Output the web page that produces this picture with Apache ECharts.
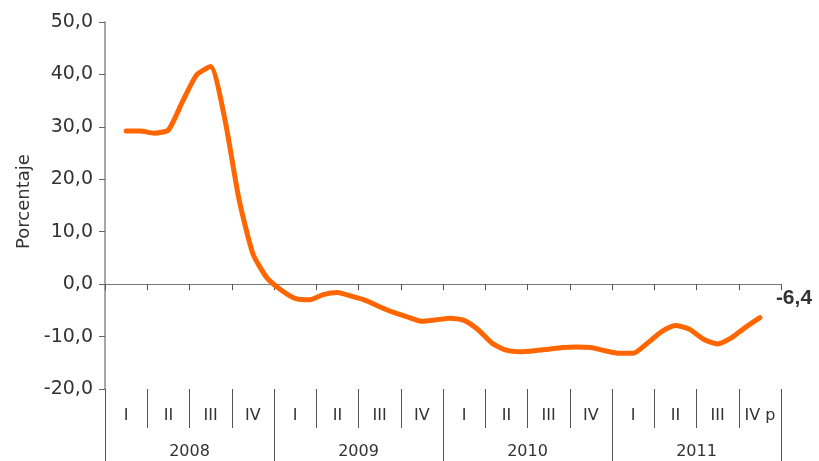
<!DOCTYPE html>
<html>
<head>
<meta charset="utf-8">
<script src="https://cdn.jsdelivr.net/npm/echarts@6/dist/echarts.min.js"></script>
<style>
  html, body { margin: 0; padding: 0; background: #fff; }
  #chart { width: 819px; height: 461px; }
</style>
</head>
<body>
<div id="chart"></div>
<script>
var years = ['2008', '2009', '2010', '2011'];
var quarters = ['I', 'II', 'III', 'IV', 'I', 'II', 'III', 'IV', 'I', 'II', 'III', 'IV', 'I', 'II', 'III', 'IV p'];
var monthNames = ['ene', 'feb', 'mar', 'abr', 'may', 'jun', 'jul', 'ago', 'sep', 'oct', 'nov', 'dic'];
// variacion mensual (%), ene 2008 .. nov 2011
var variacion = [
  null, 29.2, 29.2, 28.8, 29.4, 34.8, 39.9, 41.5, 31.6, 16.4, 5.8, 1.2,
  -1.1, -2.7, -3.0, -2.0, -1.6, -2.3, -3.1, -4.3, -5.4, -6.3, -7.1, -6.8,
  -6.5, -6.9, -8.7, -11.3, -12.6, -12.9, -12.7, -12.4, -12.1, -12.0, -12.1, -12.7,
  -13.2, -13.2, -11.3, -9.1, -7.9, -8.6, -10.5, -11.4, -10.2, -8.2, -6.4
];
var yTicks = [-20, -10, 0, 10, 20, 30, 40, 50];

var months = [];
years.forEach(function (y) {
  monthNames.forEach(function (m) { months.push(m + ' ' + y); });
});

function coma(v) {
  return v.toFixed(1).replace('.', ',');
}

var textColor = '#333';
var chart = echarts.init(document.getElementById('chart'));

chart.setOption({
  animation: false,
  grid: {
    left: 105, right: 38, top: 22, bottom: 72,
    outerBoundsMode: 'none'
  },
  xAxis: [{
    // linea del cero con marcas trimestrales
    type: 'category',
    data: quarters,
    boundaryGap: true,
    axisLine: { onZero: true, lineStyle: { color: '#777', width: 1 } },
    axisTick: { show: true, length: 6, lineStyle: { color: '#555' } },
    axisLabel: { show: false },
    splitLine: { show: false }
  }, {
    // eje mensual de la serie
    type: 'category',
    data: months,
    boundaryGap: true,
    show: false,
    position: 'bottom',
    axisLine: { onZero: false }
  }, {
    // trimestres
    type: 'category',
    data: quarters,
    boundaryGap: true,
    position: 'bottom',
    axisLine: { show: false, onZero: false },
    axisTick: { show: true, length: 39, interval: 0, lineStyle: { color: '#555' } },
    axisLabel: {
      interval: 0, margin: 19, color: textColor,
      fontFamily: 'DejaVu Sans', fontSize: 16
    }
  }, {
    // años
    type: 'category',
    data: years,
    boundaryGap: true,
    position: 'bottom',
    axisLine: { show: false, onZero: false },
    axisTick: { show: true, length: 72, interval: 0, lineStyle: { color: '#555' } },
    axisLabel: {
      interval: 0, margin: 55, color: textColor,
      fontFamily: 'DejaVu Sans', fontSize: 16
    }
  }],
  yAxis: {
    type: 'value',
    min: yTicks[0],
    max: yTicks[yTicks.length - 1],
    interval: 10,
    name: 'Porcentaje',
    nameLocation: 'middle',
    nameGap: 67,
    nameTextStyle: { color: textColor, fontFamily: 'DejaVu Sans', fontSize: 18, padding: [0, 0, 0, 8] },
    axisLine: { show: true, lineStyle: { color: '#888', width: 1.5 } },
    axisTick: { show: true, length: 6, lineStyle: { color: '#666' } },
    axisLabel: {
      margin: 12, color: textColor,
      fontFamily: 'DejaVu Sans', fontSize: 19,
      formatter: function (v) { return coma(v); }
    },
    splitLine: { show: false }
  },
  series: [{
    type: 'line',
    name: 'Variación',
    xAxisIndex: 1,
    data: variacion,
    smooth: 0.2,
    showSymbol: false,
    lineStyle: { color: '#ff6600', width: 5, cap: 'round', join: 'round' },
    itemStyle: { color: '#ff6600' },
    endLabel: {
      show: true,
      distance: 16,
      offset: [0, -19],
      color: '#333',
      fontFamily: 'Liberation Sans',
      fontWeight: 'bold',
      fontSize: 21,
      formatter: function (p) { return coma(p.value); }
    }
  }]
});
</script>
</body>
</html>
